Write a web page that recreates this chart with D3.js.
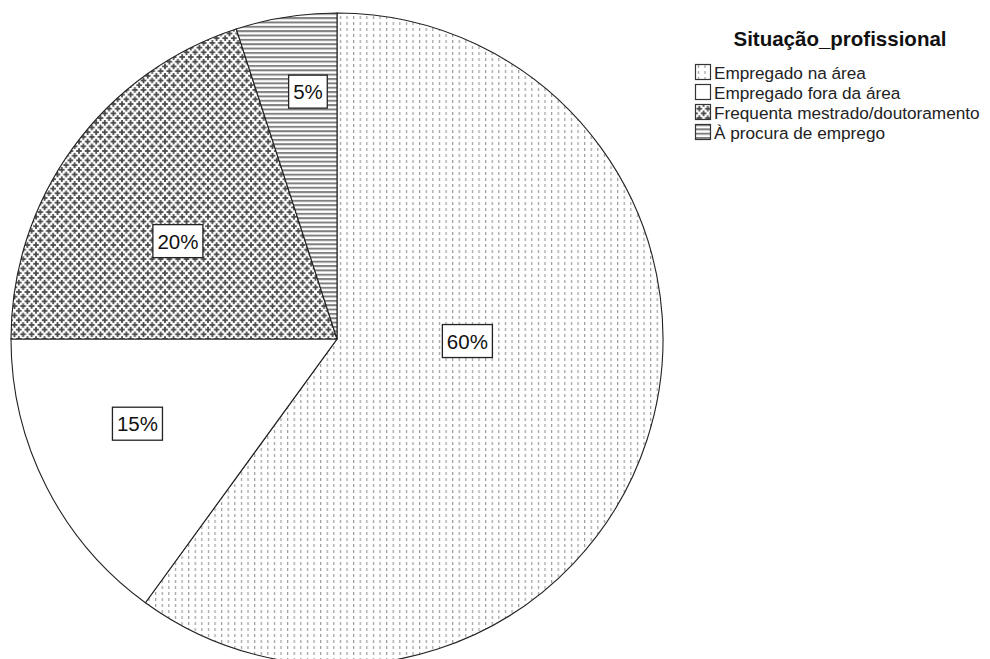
<!DOCTYPE html>
<html>
<head>
<meta charset="utf-8">
<script src="https://cdn.jsdelivr.net/npm/d3@7"></script>
<style>
  html, body { margin: 0; padding: 0; background: #fff; }
  svg { display: block; }
  text { font-family: "Liberation Sans", Arial, sans-serif; }
</style>
</head>
<body>
<svg id="chart" width="990" height="659"></svg>
<script>
// ---- data ----
const categories = ["Empregado na área", "Empregado fora da área", "Frequenta mestrado/doutoramento", "À procura de emprego"];
const counts = [12, 3, 4, 1];
const legendTitle = "Situação_profissional";
const patternIds = ["pDots", "pNone", "pCross", "pLines"];

// ---- layout (not data) ----
const cx = 337, cy = 339, R = 326;
// label placement in polar terms: [fraction of radius, bearing in degrees]
const labelLayout = [[0.40, 90.9], [0.665, 247], [0.573, 301.6], [0.764, 353.3]];

const svg = d3.select("#chart");
const defs = svg.append("defs");

// dotted pattern
const pd = defs.append("pattern").attr("id", "pDots").attr("patternUnits", "userSpaceOnUse")
  .attr("width", 6.6).attr("height", 6);
pd.append("rect").attr("width", 6.6).attr("height", 6).attr("fill", "#fff");
pd.append("rect").attr("x", 3).attr("y", 1).attr("width", 1).attr("height", 3).attr("fill", "#8a8a8a");

// empty
const pn = defs.append("pattern").attr("id", "pNone").attr("patternUnits", "userSpaceOnUse")
  .attr("width", 8).attr("height", 8);
pn.append("rect").attr("width", 8).attr("height", 8).attr("fill", "#fff");

// cross pattern
const pc = defs.append("pattern").attr("id", "pCross").attr("patternUnits", "userSpaceOnUse")
  .attr("width", 8.6).attr("height", 9.4);
pc.append("rect").attr("width", 8.6).attr("height", 9.4).attr("fill", "#fff");
[[0,0],[8.6,0],[0,9.4],[8.6,9.4],[4.3,4.7]].forEach(([x,y]) => {
  pc.append("rect").attr("x", x-2.8).attr("y", y-0.9).attr("width", 5.6).attr("height", 1.8).attr("fill", "#4a4a4a");
  pc.append("rect").attr("x", x-0.9).attr("y", y-2.8).attr("width", 1.8).attr("height", 5.6).attr("fill", "#4a4a4a");
});

// horizontal lines
const pl = defs.append("pattern").attr("id", "pLines").attr("patternUnits", "userSpaceOnUse")
  .attr("width", 8).attr("height", 4.35);
pl.append("rect").attr("width", 8).attr("height", 4.35).attr("fill", "#fff");
pl.append("rect").attr("y", 0).attr("width", 8).attr("height", 2).attr("fill", "#808080");

// ---- pie ----
const total = d3.sum(counts);
const pie = d3.pie().sort(null).value(d => d)(counts);
const arc = d3.arc().innerRadius(0).outerRadius(R);

const g = svg.append("g").attr("transform", `translate(${cx},${cy})`);
g.selectAll("path.slice").data(pie).join("path")
  .attr("class", "slice")
  .attr("d", arc)
  .attr("fill", (d, i) => `url(#${patternIds[i]})`)
  .attr("stroke", "#222")
  .attr("stroke-width", 1.1);

// labels
const fmt = d => Math.round(d / total * 100) + "%";
const lab = g.selectAll("g.lab").data(pie).join("g").attr("class", "lab")
  .attr("transform", (d, i) => {
    const [f, deg] = labelLayout[i];
    const a = deg * Math.PI / 180;
    return `translate(${f * R * Math.sin(a)},${-f * R * Math.cos(a)})`;
  });
lab.each(function(d) {
  const s = d3.select(this);
  const t = s.append("text").text(fmt(d.value))
    .attr("text-anchor", "middle").attr("dominant-baseline", "central")
    .attr("font-size", 20.5).attr("fill", "#111");
  const bb = t.node().getBBox();
  s.insert("rect", "text")
    .attr("x", -bb.width / 2 - 4.5).attr("y", -16.5)
    .attr("width", bb.width + 9).attr("height", 33)
    .attr("fill", "#fff").attr("stroke", "#222").attr("stroke-width", 1.3);
});

// ---- legend ----
svg.append("text").attr("x", 840).attr("y", 46).attr("text-anchor", "middle")
  .attr("font-size", 20.5).attr("font-weight", "bold").attr("fill", "#111").text(legendTitle);

const leg = svg.append("g").attr("transform", "translate(695,64)");
const rowH = 20;
const li = leg.selectAll("g").data(categories).join("g")
  .attr("transform", (d, i) => `translate(0,${i * rowH})`);
li.append("rect").attr("x", 0.5).attr("y", 0.5).attr("width", 15).attr("height", 15)
  .attr("fill", (d, i) => `url(#${patternIds[i]})`)
  .attr("stroke", "#333").attr("stroke-width", 1.2);
li.append("text").attr("x", 19).attr("y", 14.5)
  .attr("font-size", 17.2).attr("fill", "#222").text(d => d);
</script>
</body>
</html>
